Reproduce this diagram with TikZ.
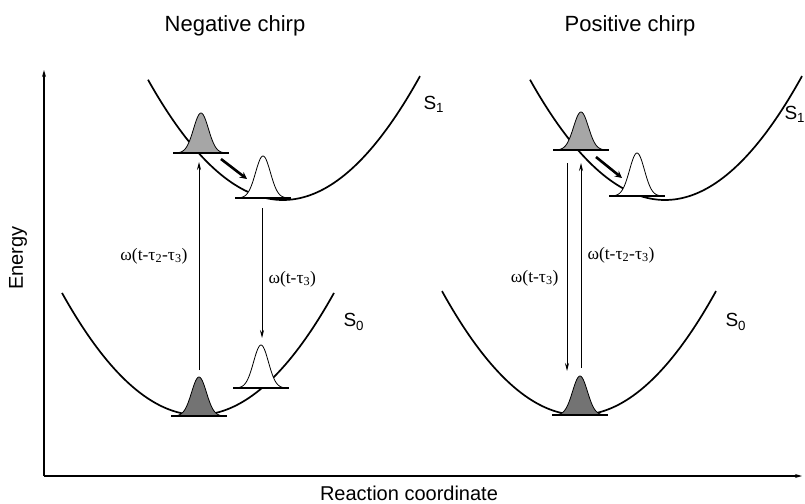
\documentclass[tikz,border=0pt]{standalone}
\usepackage{fontspec}
\setmainfont{Liberation Sans}
\newfontfamily\serifx{Liberation Serif}
\usetikzlibrary{arrows.meta}
\tikzset{
  curve/.style={line width=1.7pt},
  axis/.style={line width=1.2pt,-{Stealth[length=7pt,width=4pt]}},
  trans/.style={line width=0.8pt,-{Stealth[length=8pt,width=4pt]}},
  move/.style={line width=2.6pt,-{Stealth[length=7pt,width=7pt]}},
  title/.style={font=\fontsize{22}{26}\selectfont},
  axlabel/.style={font=\fontsize{20}{24}\selectfont},
  state/.style={font=\fontsize{19}{22}\selectfont},
  omega/.style={font=\serifx\fontsize{17.5}{20}\selectfont},
  lightfill/.style={fill=black!35},
  darkfill/.style={fill=black!55},
  openfill/.style={fill=white}
}
% #1 centre x, #2 base y, #3 height, #4 fill style
\newcommand\gaussbump[4]{%
  \filldraw[#4,line width=0.8pt] plot[domain=-27:27,samples=60] ({#1+\x},{#2-#3*exp(-(\x/10.5)^2)}) -- cycle;
  \draw[line width=1.1pt] ({#1-28},#2) -- ({#1+28},#2);
}
\begin{document}
\begin{tikzpicture}[x=1pt,y=-1pt]
\useasboundingbox (0,0) rectangle (805,503);

% axes
\coordinate (origin) at (44,476);
\coordinate (ytop) at (44,70);
\coordinate (xend) at (802,476);
\draw[axis] (origin) -- (ytop);
\draw[axis] (origin) -- (xend);
\node[axlabel,rotate=90] (energy) at (18,258) {Energy};
\node[axlabel] (rc) at (409,493) {Reaction coordinate};

% titles
\node[title] (tneg) at (235,26) {Negative chirp};
\node[title] (tpos) at (630,26) {Positive chirp};

% ---------- Left panel ----------
\draw[curve] plot[domain=148:420,samples=80] (\x,{200-0.66*((\x-283)/10)^2});
\draw[curve] plot[domain=62:334,samples=80] (\x,{415-0.66*((\x-198)/10)^2});
\node[state,anchor=west] (ls1) at (420,104) {S\textsubscript{1}};
\node[state,anchor=west] (ls0) at (340,322) {S\textsubscript{0}};

\gaussbump{201}{153}{40}{lightfill}
\gaussbump{263}{198}{42}{openfill}
\gaussbump{261}{388}{43}{openfill}
\gaussbump{199}{416}{39}{darkfill}

\coordinate (lupS) at (199,370);
\coordinate (lupE) at (199,162);
\coordinate (ldnS) at (262,208);
\coordinate (ldnE) at (262,338);
\coordinate (lmvS) at (221,159);
\coordinate (lmvE) at (247,179);
\draw[trans] (lupS) -- (lupE);
\draw[trans] (ldnS) -- (ldnE);
\draw[move] (lmvS) -- (lmvE);
\node[omega,anchor=east] (lw1) at (191,256) {ω(t-τ\textsubscript{2}-τ\textsubscript{3})};
\node[omega,anchor=west] (lw2) at (265,279) {ω(t-τ\textsubscript{3})};

% ---------- Right panel ----------
\draw[curve] plot[domain=530:802,samples=80] (\x,{200-0.66*((\x-665)/10)^2});
\draw[curve] plot[domain=442:716,samples=80] (\x,{415-0.66*((\x-579)/10)^2});
\node[state,anchor=west] (rs1) at (781,114) {S\textsubscript{1}};
\node[state,anchor=west] (rs0) at (722,322) {S\textsubscript{0}};

\gaussbump{581}{150}{38}{lightfill}
\gaussbump{637}{196}{43}{openfill}
\gaussbump{580}{415}{39}{darkfill}

\coordinate (rdnS) at (567,163);
\coordinate (rdnE) at (567,371);
\coordinate (rupS) at (581,368);
\coordinate (rupE) at (581,163);
\coordinate (rmvS) at (596,157);
\coordinate (rmvE) at (622,178);
\draw[trans] (rdnS) -- (rdnE);
\draw[trans] (rupS) -- (rupE);
\draw[move] (rmvS) -- (rmvE);
\node[omega,anchor=east] (rw1) at (562,278) {ω(t-τ\textsubscript{3})};
\node[omega,anchor=west] (rw2) at (584,255) {ω(t-τ\textsubscript{2}-τ\textsubscript{3})};
\end{tikzpicture}
\end{document}
